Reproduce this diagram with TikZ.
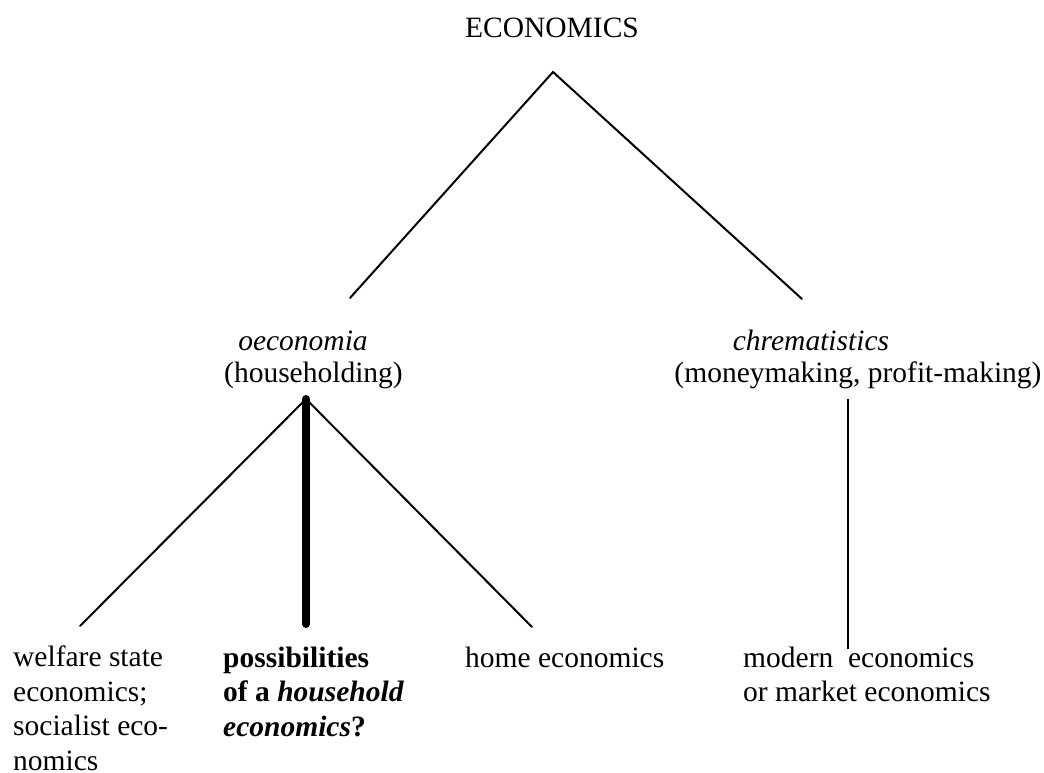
\documentclass[tikz,border=0pt]{standalone}
\usepackage{fontspec}
\setmainfont{Liberation Serif}
\begin{document}
\begin{tikzpicture}[x=1pt,y=-1pt,
  lbl/.style={inner sep=0pt, font=\fontsize{29.5}{34.5}\selectfont},
  blk/.style={lbl, align=left, anchor=base west},
  branch/.style={line width=2pt, line cap=round},
  strong/.style={line width=8pt, line cap=round}]
\useasboundingbox (0,0) rectangle (1044,773);
% labels (multi-line blocks are placed by the baseline of their last line)
\node[lbl, anchor=base] (eco) at (552,38) {ECONOMICS};
\node[lbl, anchor=base] (oec) at (303,350) {\itshape oeconomia};
\node[lbl, anchor=base] (hh) at (313.5,382) {(householding)};
\node[lbl, anchor=base] (chr) at (811,350) {\itshape chrematistics};
\node[lbl, anchor=base] (mm) at (858,382) {(moneymaking, profit-making)};
\node[blk] (wel) at (13,770) {welfare state\\economics;\\socialist eco-\\nomics};
\node[blk] (pos) at (223,736) {\bfseries possibilities\\\bfseries of a \itshape household\\\bfseries\itshape economics\upshape?};
\node[blk] (home) at (465,667) {home economics};
\node[blk] (mod) at (743,701.5) {modern\ \ economics\\or market economics};
% junctions
\coordinate (top) at (553,72);
\coordinate (lend) at (350,298);
\coordinate (rend) at (802,299);
\coordinate (sub) at (306,399);
\coordinate (welTop) at (80,626);
\coordinate (posTop) at (306,624);
\coordinate (homeTop) at (532,627);
\coordinate (chrTop) at (848,399);
\coordinate (modTop) at (848,649);
% connectors
\draw[branch] (lend) -- (top) -- (rend);
\draw[branch] (welTop) -- (sub) -- (homeTop);
\draw[strong] (sub) -- (posTop);
\draw[branch, line cap=butt] (chrTop) -- (modTop);
\end{tikzpicture}
\end{document}
